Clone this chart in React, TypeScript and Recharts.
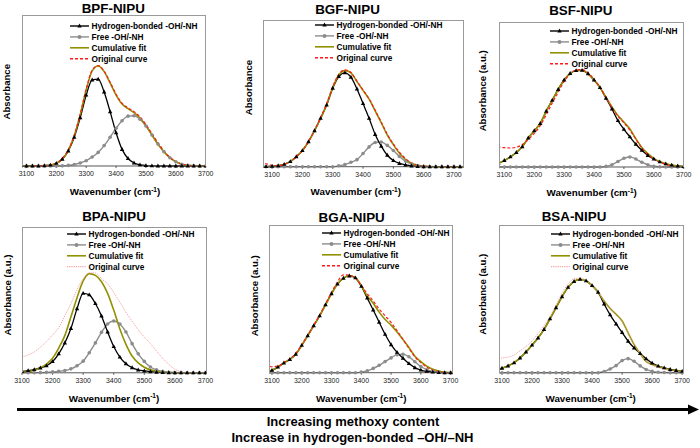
import { LineChart, Line, XAxis, YAxis, Legend } from "recharts"

const FONT = "'Liberation Sans', Arial, sans-serif"
const OLIVE = "#919100"
const GRAY = "#8c8c8c"
const PAD_X = 14
const PAD_T = 4
const AXIS_H = 16

// wavenumber grid (cm-1) shared by every panel
const WAVENUMBERS = [
  3060, 3080, 3100, 3120, 3140, 3160, 3180, 3200, 3220, 3240, 3260, 3280, 3300, 3320, 3340, 3360, 3380, 3400,
  3420, 3440, 3460, 3480, 3500, 3520, 3540, 3560, 3580, 3600, 3620, 3640, 3660, 3680, 3700, 3720, 3740,
]
const TICKS = [3100, 3200, 3300, 3400, 3500, 3600, 3700]
const LEGEND_LABELS = ["Hydrogen-bonded -OH/-NH", "Free -OH/-NH", "Cumulative fit", "Original curve"]

// BPF-NIPU
const BPF_HBOND = [0, 0, 0, 0, 0, 0.002, 0.006, 0.018, 0.045, 0.1, 0.19, 0.32, 0.47, 0.57, 0.575, 0.49, 0.36, 0.22, 0.11, 0.05, 0.02, 0.008, 0.003, 0.001, 0, 0, 0, 0, 0, 0, 0, 0, 0, 0, 0]
const BPF_FREE = [0, 0, 0, 0, 0, 0, 0, 0, 0.001, 0.004, 0.01, 0.02, 0.035, 0.06, 0.09, 0.135, 0.19, 0.25, 0.3, 0.33, 0.333, 0.31, 0.265, 0.205, 0.145, 0.095, 0.055, 0.028, 0.012, 0.005, 0.002, 0, 0, 0, 0]
const BPF_CUMUL = [0, 0, 0, 0, 0, 0.002, 0.006, 0.018, 0.046, 0.104, 0.2, 0.34, 0.505, 0.63, 0.662, 0.625, 0.55, 0.47, 0.41, 0.38, 0.353, 0.318, 0.268, 0.206, 0.145, 0.095, 0.055, 0.028, 0.012, 0.005, 0.002, 0, 0, 0, 0]
const BPF_ORIG = [0, 0, 0, 0, 0, 0.003, 0.008, 0.02, 0.05, 0.108, 0.205, 0.345, 0.51, 0.635, 0.665, 0.628, 0.555, 0.475, 0.415, 0.385, 0.36, 0.325, 0.275, 0.215, 0.155, 0.1, 0.058, 0.03, 0.013, 0.005, 0.002, 0, 0, 0, 0]

// BGF-NIPU
const BGF_HBOND = [0, 0.001, 0.003, 0.007, 0.016, 0.035, 0.068, 0.11, 0.17, 0.245, 0.33, 0.42, 0.535, 0.615, 0.64, 0.61, 0.53, 0.43, 0.33, 0.22, 0.14, 0.078, 0.042, 0.022, 0.012, 0.005, 0.002, 0, 0, 0, 0, 0, 0, 0, 0]
const BGF_FREE = [0, 0, 0, 0, 0, 0, 0, 0, 0, 0, 0, 0, 0, 0.006, 0.014, 0.03, 0.048, 0.09, 0.135, 0.165, 0.168, 0.145, 0.11, 0.07, 0.038, 0.018, 0.007, 0.002, 0, 0, 0, 0, 0, 0, 0]
const BGF_CUMUL = [0, 0.001, 0.003, 0.007, 0.016, 0.035, 0.068, 0.11, 0.17, 0.245, 0.33, 0.425, 0.54, 0.625, 0.655, 0.64, 0.58, 0.52, 0.46, 0.38, 0.3, 0.215, 0.15, 0.092, 0.05, 0.023, 0.009, 0.004, 0.001, 0, 0, 0, 0, 0, 0]
const BGF_ORIG = [0.02, 0.02, 0.008, 0.007, 0.016, 0.035, 0.068, 0.11, 0.172, 0.25, 0.335, 0.43, 0.545, 0.63, 0.66, 0.642, 0.583, 0.522, 0.462, 0.385, 0.305, 0.22, 0.155, 0.1, 0.055, 0.025, 0.009, 0.003, 0.001, 0, 0, 0, 0, 0, 0]

// BSF-NIPU
const BSF_HBOND = [0.015, 0.025, 0.045, 0.07, 0.1, 0.14, 0.2, 0.25, 0.3, 0.385, 0.46, 0.535, 0.6, 0.645, 0.665, 0.667, 0.643, 0.6, 0.548, 0.475, 0.4, 0.32, 0.26, 0.208, 0.157, 0.115, 0.08, 0.055, 0.036, 0.022, 0.013, 0.007, 0.003, 0.001, 0]
const BSF_FREE = [0, 0, 0, 0, 0, 0, 0, 0, 0, 0, 0, 0, 0, 0, 0, 0, 0, 0, 0, 0.004, 0.016, 0.038, 0.06, 0.069, 0.055, 0.033, 0.015, 0.005, 0.001, 0, 0, 0, 0, 0, 0]
const BSF_CUMUL = [0.015, 0.025, 0.045, 0.07, 0.1, 0.14, 0.2, 0.25, 0.3, 0.385, 0.46, 0.535, 0.6, 0.645, 0.665, 0.667, 0.643, 0.6, 0.548, 0.48, 0.415, 0.355, 0.31, 0.262, 0.195, 0.135, 0.092, 0.06, 0.037, 0.022, 0.013, 0.007, 0.003, 0.001, 0]
const BSF_ORIG = [0.14, 0.138, 0.133, 0.131, 0.136, 0.155, 0.19, 0.232, 0.285, 0.36, 0.44, 0.515, 0.59, 0.64, 0.668, 0.672, 0.65, 0.605, 0.55, 0.48, 0.41, 0.35, 0.305, 0.255, 0.192, 0.13, 0.085, 0.055, 0.033, 0.018, 0.008, 0.003, 0, 0, 0]

// BPA-NIPU
const BPA_HBOND = [0.005, 0.007, 0.01, 0.015, 0.022, 0.033, 0.048, 0.077, 0.13, 0.205, 0.304, 0.44, 0.545, 0.535, 0.475, 0.39, 0.28, 0.18, 0.108, 0.062, 0.035, 0.02, 0.013, 0.008, 0.004, 0.002, 0.001, 0, 0, 0, 0, 0, 0, 0, 0]
const BPA_FREE = [0.001, 0.001, 0.001, 0.001, 0.001, 0.001, 0.003, 0.006, 0.01, 0.015, 0.027, 0.048, 0.08, 0.138, 0.205, 0.278, 0.335, 0.355, 0.335, 0.28, 0.2, 0.13, 0.078, 0.04, 0.02, 0.01, 0.004, 0.002, 0.001, 0, 0, 0, 0, 0, 0]
const BPA_CUMUL = [0, 0.001, 0.003, 0.008, 0.018, 0.035, 0.06, 0.1, 0.17, 0.255, 0.384, 0.515, 0.63, 0.68, 0.668, 0.625, 0.545, 0.43, 0.3, 0.195, 0.115, 0.068, 0.038, 0.02, 0.011, 0.005, 0.002, 0.001, 0, 0, 0, 0, 0, 0, 0]
const BPA_ORIG = [0.08, 0.095, 0.108, 0.122, 0.143, 0.175, 0.215, 0.26, 0.31, 0.39, 0.475, 0.57, 0.645, 0.685, 0.685, 0.645, 0.61, 0.55, 0.485, 0.415, 0.355, 0.295, 0.245, 0.2, 0.148, 0.1, 0.058, 0.025, 0.007, 0, 0, 0, 0, 0, 0]

// BGA-NIPU
const BGA_HBOND = [0.003, 0.008, 0.016, 0.038, 0.066, 0.09, 0.125, 0.185, 0.25, 0.318, 0.385, 0.46, 0.535, 0.6, 0.64, 0.655, 0.642, 0.585, 0.505, 0.425, 0.342, 0.26, 0.19, 0.138, 0.098, 0.062, 0.034, 0.018, 0.009, 0.004, 0.001, 0, 0, 0, 0]
const BGA_FREE = [0, 0, 0, 0, 0, 0, 0, 0, 0, 0, 0, 0, 0, 0, 0, 0, 0, 0.004, 0.012, 0.029, 0.05, 0.075, 0.1, 0.122, 0.125, 0.108, 0.074, 0.042, 0.02, 0.008, 0.002, 0, 0, 0, 0]
const BGA_CUMUL = [0.003, 0.008, 0.016, 0.038, 0.066, 0.09, 0.125, 0.185, 0.25, 0.318, 0.385, 0.46, 0.535, 0.6, 0.64, 0.655, 0.645, 0.59, 0.52, 0.47, 0.41, 0.36, 0.322, 0.275, 0.224, 0.17, 0.112, 0.075, 0.044, 0.024, 0.012, 0.004, 0.001, 0, 0]
const BGA_ORIG = [0.06, 0.055, 0.04, 0.045, 0.068, 0.095, 0.13, 0.19, 0.255, 0.322, 0.39, 0.468, 0.545, 0.615, 0.662, 0.66, 0.64, 0.59, 0.535, 0.485, 0.43, 0.385, 0.34, 0.285, 0.225, 0.165, 0.108, 0.068, 0.038, 0.018, 0.006, 0.001, 0, 0, 0]

// BSA-NIPU
const BSA_HBOND = [0.012, 0.02, 0.03, 0.046, 0.067, 0.1, 0.14, 0.187, 0.235, 0.293, 0.365, 0.44, 0.515, 0.578, 0.618, 0.632, 0.622, 0.59, 0.545, 0.465, 0.392, 0.33, 0.272, 0.213, 0.168, 0.13, 0.094, 0.065, 0.045, 0.033, 0.022, 0.015, 0.009, 0.005, 0.003]
const BSA_FREE = [0, 0, 0, 0, 0, 0, 0, 0, 0, 0, 0, 0, 0, 0, 0, 0, 0, 0, 0, 0.008, 0.025, 0.048, 0.082, 0.095, 0.077, 0.046, 0.022, 0.009, 0.003, 0.001, 0, 0, 0, 0, 0]
const BSA_CUMUL = [0.012, 0.02, 0.03, 0.046, 0.067, 0.1, 0.14, 0.187, 0.235, 0.293, 0.365, 0.44, 0.515, 0.578, 0.618, 0.632, 0.622, 0.59, 0.545, 0.485, 0.435, 0.395, 0.35, 0.27, 0.19, 0.13, 0.076, 0.055, 0.043, 0.03, 0.02, 0.014, 0.009, 0.005, 0.003]
const BSA_ORIG = [0.09, 0.095, 0.1, 0.105, 0.12, 0.148, 0.178, 0.215, 0.265, 0.32, 0.38, 0.46, 0.54, 0.6, 0.637, 0.64, 0.625, 0.59, 0.548, 0.485, 0.43, 0.39, 0.345, 0.27, 0.19, 0.13, 0.078, 0.052, 0.036, 0.024, 0.015, 0.008, 0.004, 0.002, 0]

type OrigStyle = { color: string; dash: string; width: number }
const RED_DASH: OrigStyle = { color: "#ff1a1a", dash: "3 2", width: 1.2 }
const PINK_DOT: OrigStyle = { color: "#f4a3a3", dash: "1.2 1", width: 1 }

type PanelSpec = {
  title: string
  yLabel: string
  hbond: number[]
  free: number[]
  cumul: number[]
  orig: number[]
  origStyle: OrigStyle
  box: [number, number, number, number] // left, top, right, bottom of the plot area
  domain: [number, number]
  titlePos: [number, number]
  yLabelPos: [number, number]
  xLabelPos: [number, number]
  legendPos: [number, number] // line start x, first row y
}

const PANELS: PanelSpec[] = [
  {
    title: "BPF-NIPU", yLabel: "Absorbance", hbond: BPF_HBOND, free: BPF_FREE, cumul: BPF_CUMUL, orig: BPF_ORIG,
    origStyle: RED_DASH, box: [22.3, 15, 206, 166], domain: [3085, 3700],
    titlePos: [113.3, 12.7], yLabelPos: [6.7, 91.7], xLabelPos: [115, 191.7], legendPos: [70, 26],
  },
  {
    title: "BGF-NIPU", yLabel: "Absorbance", hbond: BGF_HBOND, free: BGF_FREE, cumul: BGF_CUMUL, orig: BGF_ORIG,
    origStyle: RED_DASH, box: [263.3, 20, 464.3, 166.7], domain: [3070, 3733],
    titlePos: [347.5, 14], yLabelPos: [248.3, 87.5], xLabelPos: [355.8, 191.7], legendPos: [315, 25],
  },
  {
    title: "BSF-NIPU", yLabel: "Absorbance (a.u.)", hbond: BSF_HBOND, free: BSF_FREE, cumul: BSF_CUMUL, orig: BSF_ORIG,
    origStyle: RED_DASH, box: [499.3, 21.7, 684, 166.7], domain: [3082, 3700],
    titlePos: [580.8, 15], yLabelPos: [482.3, 90.8], xLabelPos: [591.7, 192.7], legendPos: [550, 30.7],
  },
  {
    title: "BPA-NIPU", yLabel: "Absorbance (a.u.)", hbond: BPA_HBOND, free: BPA_FREE, cumul: BPA_CUMUL, orig: BPA_ORIG,
    origStyle: PINK_DOT, box: [22.3, 226.7, 206.7, 372.5], domain: [3100, 3703],
    titlePos: [114, 220.7], yLabelPos: [7, 295], xLabelPos: [114, 398.3], legendPos: [66.7, 234.3],
  },
  {
    title: "BGA-NIPU", yLabel: "Absorbance (a.u.)", hbond: BGA_HBOND, free: BGA_FREE, cumul: BGA_CUMUL, orig: BGA_ORIG,
    origStyle: RED_DASH, box: [269.3, 225, 453.3, 372.7], domain: [3090, 3708],
    titlePos: [351.7, 221.7], yLabelPos: [254.5, 295.8], xLabelPos: [361.3, 398.3], legendPos: [321.7, 233.3],
  },
  {
    title: "BSA-NIPU", yLabel: "Absorbance (a.u.)", hbond: BSA_HBOND, free: BSA_FREE, cumul: BSA_CUMUL, orig: BSA_ORIG,
    origStyle: PINK_DOT, box: [499.3, 225, 684, 372.7], domain: [3090, 3705],
    titlePos: [574, 220.7], yLabelPos: [483, 294.2], xLabelPos: [590.7, 398.3], legendPos: [550.7, 234.3],
  },
]

const triangle = (cx: number, cy: number) =>
  `M${cx},${cy - 2.4}L${cx + 2.2},${cy + 1.5}L${cx - 2.2},${cy + 1.5}Z`

const TriangleDot = (props: any) => {
  const { cx, cy, index } = props
  if (cx == null || cy == null) return <g key={`t-${index}`} />
  return <path key={`t-${index}`} d={triangle(cx, cy)} fill="#000" />
}

function PanelLegend({ orig }: { orig: OrigStyle }) {
  const rowH = 10.9
  return (
    <svg width={140} height={46} style={{ overflow: "visible", display: "block" }}>
      {LEGEND_LABELS.map((label, i) => {
        const y = 6 + i * rowH
        return (
          <g key={label}>
            {i === 0 && <line x1={2} x2={21} y1={y} y2={y} stroke="#000" strokeWidth={1.4} />}
            {i === 0 && <path d={triangle(11.5, y)} fill="#000" />}
            {i === 1 && <line x1={2} x2={21} y1={y} y2={y} stroke={GRAY} strokeWidth={1.4} />}
            {i === 1 && <circle cx={11.5} cy={y} r={2} fill={GRAY} />}
            {i === 2 && <line x1={2} x2={21} y1={y} y2={y} stroke={OLIVE} strokeWidth={1.6} />}
            {i === 3 && (
              <line x1={2} x2={21} y1={y} y2={y} stroke={orig.color} strokeWidth={orig.width + 0.2} strokeDasharray={orig.dash} />
            )}
            <text x={23.5} y={y + 3} fontSize={8.3} fontWeight="bold" fontFamily={FONT} fill="#000">
              {label}
            </text>
          </g>
        )
      })}
    </svg>
  )
}

function Panel({ p }: { p: PanelSpec }) {
  const data = WAVENUMBERS.map((w, i) => ({
    w,
    hbond: p.hbond[i],
    free: p.free[i],
    cumul: p.cumul[i],
    orig: p.orig[i],
  }))
  const [l, t, r, b] = p.box
  const chartLeft = l - PAD_X
  const chartTop = t - PAD_T
  return (
    <>
      <div style={{ position: "absolute", left: chartLeft, top: chartTop }}>
        <LineChart
          width={r - l + PAD_X * 2}
          height={b - t + PAD_T + AXIS_H}
          data={data}
          margin={{ top: PAD_T, right: PAD_X, bottom: 0, left: PAD_X }}
        >
          <XAxis
            type="number"
            dataKey="w"
            domain={p.domain}
            allowDataOverflow
            ticks={TICKS}
            interval={0}
            height={AXIS_H}
            tickSize={2}
            tickMargin={3}
            stroke="#555"
            tick={{ fontSize: 7, fill: "#222", fontFamily: FONT }}
          />
          <YAxis hide domain={[0, 1]} />
          <Legend
            layout="horizontal"
            verticalAlign="middle"
            align="center"
            content={() => <PanelLegend orig={p.origStyle} />}
            wrapperStyle={{
              left: p.legendPos[0] - 2 - chartLeft,
              top: p.legendPos[1] - 6 - chartTop,
              width: 140,
              height: 46,
            }}
          />
          <Line type="monotone" dataKey="free" stroke={GRAY} strokeWidth={1.4}
            dot={{ r: 1.8, fill: GRAY, stroke: "none" }} isAnimationActive={false} />
          <Line type="monotone" dataKey="hbond" stroke="#000" strokeWidth={1.3}
            dot={TriangleDot} isAnimationActive={false} />
          <Line type="monotone" dataKey="cumul" stroke={OLIVE} strokeWidth={1.6} dot={false} isAnimationActive={false} />
          <Line type="monotone" dataKey="orig" stroke={p.origStyle.color} strokeWidth={p.origStyle.width}
            strokeDasharray={p.origStyle.dash} dot={false} isAnimationActive={false} />
        </LineChart>
      </div>
      <div
        style={{
          position: "absolute",
          left: l,
          top: t,
          width: r - l,
          height: b - t,
          boxSizing: "border-box",
          border: "1px solid #9a9a9a",
          borderBottom: "none",
          pointerEvents: "none",
        }}
      />
    </>
  )
}

function PanelTexts({ p }: { p: PanelSpec }) {
  return (
    <g fontFamily={FONT} fontWeight="bold" fill="#000">
      <text x={p.titlePos[0]} y={p.titlePos[1]} textAnchor="middle" fontSize={13.4}>
        {p.title}
      </text>
      <text
        x={p.yLabelPos[0]}
        y={p.yLabelPos[1]}
        textAnchor="middle"
        dominantBaseline="central"
        fontSize={9.6}
        transform={`rotate(-90 ${p.yLabelPos[0]} ${p.yLabelPos[1]})`}
      >
        {p.yLabel}
      </text>
      <text x={p.xLabelPos[0]} y={p.xLabelPos[1] + 3.5} textAnchor="middle" fontSize={9.8}>
        Wavenumber (cm
        <tspan dy={-3.5} fontSize={6.5}>-1</tspan>
        <tspan dy={3.5}>)</tspan>
      </text>
    </g>
  )
}

export default function App() {
  return (
    <div style={{ position: "absolute", left: 0, top: 0, width: 700, height: 448, background: "#fff", overflow: "hidden" }}>
      {PANELS.map((p) => (
        <Panel key={p.title} p={p} />
      ))}
      <svg width={700} height={448} style={{ position: "absolute", left: 0, top: 0, pointerEvents: "none" }}>
        {PANELS.map((p) => (
          <PanelTexts key={p.title} p={p} />
        ))}
        <line x1={17} x2={690} y1={409.5} y2={409.5} stroke="#000" strokeWidth={3} />
        <polygon points="688,404.5 699,409.5 688,414.5" fill="#000" />
        <text x={353} y={426.2} textAnchor="middle" fontSize={13} fontWeight="bold" fontFamily={FONT}>
          Increasing methoxy content
        </text>
        <text x={352.5} y={442.2} textAnchor="middle" fontSize={13} fontWeight="bold" fontFamily={FONT}>
          Increase in hydrogen-bonded –OH/–NH
        </text>
      </svg>
    </div>
  )
}
